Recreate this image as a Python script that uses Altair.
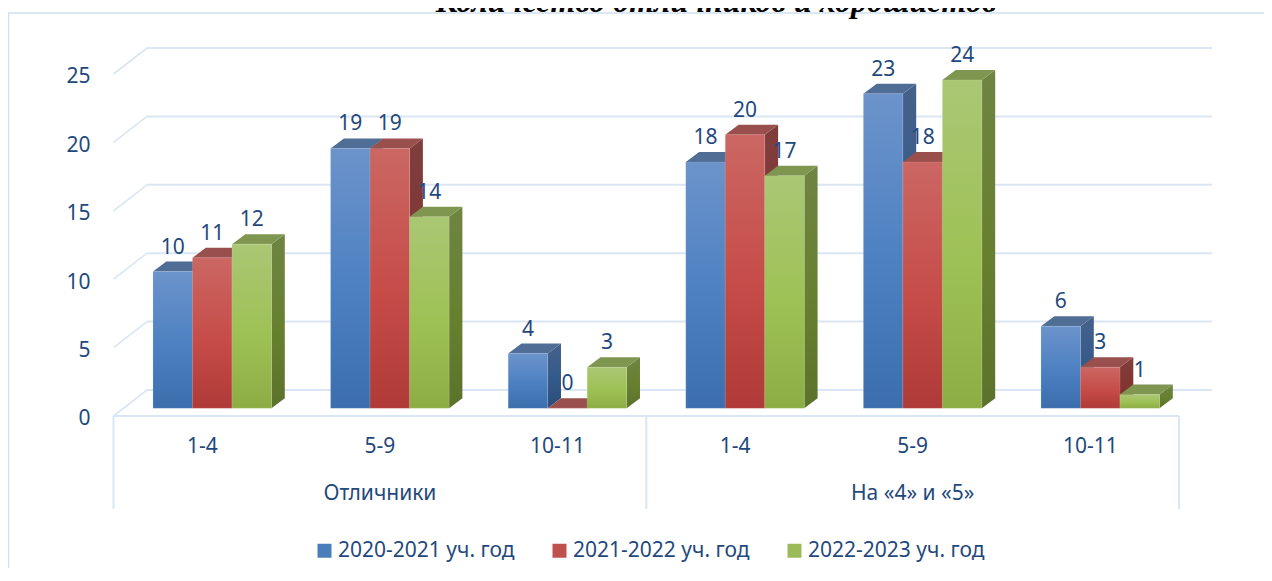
import altair as alt
import pandas as pd

groups = ["Отличники", "На «4» и «5»"]
classes = ["1-4", "5-9", "10-11", "1-4", "5-9", "10-11"]
series = ["2020-2021 уч. год", "2021-2022 уч. год", "2022-2023 уч. год"]
v2021 = [10, 19, 4, 18, 23, 6]
v2122 = [11, 19, 0, 20, 18, 3]
v2223 = [12, 14, 3, 17, 24, 1]
values = [v2021, v2122, v2223]
y_ticks = [0, 5, 10, 15, 20, 25]
title_text = "Количество отличников и хорошистов"

W, H = 1256, 560
STEP = 177.6
PXU = 13.68
X0 = 105.5
Y0 = 400.3
x_scale = alt.Scale(domain=[-X0 / STEP, (W - X0) / STEP], range=[0, W], nice=False, zero=False)
y_scale = alt.Scale(domain=[(Y0 - H) / PXU, Y0 / PXU], range=[H, 0], nice=False, zero=False)

TEXT = "#1F497D"
FONT = "Noto Sans"
FS = 21
GRID = "#DBE6F4"
BAR_W = 0.2224
DX = 13.3 / STEP
DV = 10 / PXU


def grad(a, b, c):
    return alt.LinearGradient(
        gradient="linear", x1=0, y1=0, x2=0, y2=1,
        stops=[alt.GradientStop(offset=0, color=a),
               alt.GradientStop(offset=0.55, color=b),
               alt.GradientStop(offset=1, color=c)])


front = [grad("#6C93CB", "#4C80C1", "#3C6EAD"),
         grad("#CB6763", "#C64C48", "#AF3A37"),
         grad("#AAC774", "#9EC155", "#8CAD44")]
side = [grad("#45618A", "#345A8A", "#294D76"),
        grad("#7E3E3C", "#823532", "#752C2A"),
        grad("#6F8442", "#66802F", "#5B722B")]
top = ["#506D96", "#994F4C", "#7F9650"]
edge = ["#B9CDE5", "#E6B9B8", "#D7E4BD"]
flat = ["#4A7EBB", "#C0504D", "#9BBB59"]

y_axis = alt.Axis(values=y_ticks, title=None, grid=False, domain=False, ticks=False,
                  labelFont=FONT, labelFontSize=FS, labelColor=TEXT, labelOffset=10.5,
                  offset=-90, labelPadding=8, orient="left", labelBaseline="middle")
X = alt.X("x:Q", scale=x_scale, axis=None)
Y = alt.Y("y:Q", scale=y_scale, stack=None, axis=y_axis)

bars, sides, tops = [], [], []
for s, vals in enumerate(values):
    for c, v in enumerate(vals):
        x0 = c + BAR_W * (s + 1)
        x1 = x0 + BAR_W
        key = f"{s}-{c}"
        bars.append(dict(s=s, key=key, x=x0, x2=x1, y=v, y2=0, v=v, cx=(x0 + x1) / 2))
        sides += [dict(s=s, key=key, x=x1, y=v, y2=0),
                  dict(s=s, key=key, x=x1 + DX, y=v + DV, y2=DV)]
        tops += [dict(s=s, key=key, x=x0, y=v, y2=v),
                 dict(s=s, key=key, x=x0 + DX, y=v, y2=v + DV),
                 dict(s=s, key=key, x=x1, y=v, y2=v + DV),
                 dict(s=s, key=key, x=x1 + DX, y=v + DV, y2=v + DV)]
bars = pd.DataFrame(bars)
sides = pd.DataFrame(sides)
tops = pd.DataFrame(tops)

layers = []

# hidden behind the first group's bars: carries the legend
leg = pd.DataFrame({"series": series, "x": [BAR_W * 1.5, BAR_W * 2.5, BAR_W * 3.5], "y": [5, 5, 5]})
layers.append(alt.Chart(leg).mark_square(size=1, opacity=1).encode(
    x=X, y=Y,
    color=alt.Color("series:N", scale=alt.Scale(domain=series, range=flat),
                    legend=alt.Legend(orient="none", legendX=306, legendY=532, direction="horizontal",
                                      title=None, symbolType="square", symbolSize=196, symbolStrokeWidth=0,
                                      symbolOpacity=1, labelFont=FONT, labelFontSize=FS, labelColor=TEXT,
                                      labelLimit=400, columnPadding=34, labelOffset=3))))

# back wall and side wall
BACK_X, BACK_END, BACK_DV, FRONT_DV = 33.5 / STEP, 1098.5 / STEP, 18.3 / PXU, -7.7 / PXU
wall = pd.DataFrame({"x": [BACK_X] * 6, "x2": [BACK_END] * 6, "y": [t + BACK_DV for t in y_ticks]})
diag = pd.DataFrame({"x": [0.0] * 6, "x2": [BACK_X] * 6,
                     "y": [t + FRONT_DV for t in y_ticks], "y2": [t + BACK_DV for t in y_ticks]})
layers.append(alt.Chart(wall).mark_rule(color=GRID, strokeWidth=2).encode(x=X, x2="x2:Q", y=Y))
layers.append(alt.Chart(diag).mark_rule(color=GRID, strokeWidth=1.6).encode(x=X, x2="x2:Q", y=Y, y2="y2:Q"))

# floor and category separators
floor = pd.DataFrame({"x": [0.0], "x2": [6.0], "y": [FRONT_DV]})
layers.append(alt.Chart(floor).mark_rule(color=GRID, strokeWidth=2).encode(x=X, x2="x2:Q", y=Y))
seps = pd.DataFrame({"x": [0.0, 3.0, 6.0], "y": [FRONT_DV] * 3, "y2": [FRONT_DV - 93 / PXU] * 3})
layers.append(alt.Chart(seps).mark_rule(color=GRID, strokeWidth=2).encode(x=X, y=Y, y2="y2:Q"))

# outer frame
layers.append(alt.Chart(pd.DataFrame({"a": [0]})).mark_rule(color="#CFE0F1", strokeWidth=1.5).encode(
    x=alt.value(0.5), y=alt.value(5), y2=alt.value(560)))
layers.append(alt.Chart(pd.DataFrame({"a": [0]})).mark_rule(color="#CFE0F1", strokeWidth=1.5).encode(
    x=alt.value(0), x2=alt.value(1256), y=alt.value(5)))

# 3-D bars, series by series
for s in range(3):
    layers.append(alt.Chart(sides[sides.s == s]).mark_area(fill=side[s]).encode(
        x=X, y=Y, y2="y2:Q", detail="key:N"))
    layers.append(alt.Chart(tops[tops.s == s]).mark_area(fill=top[s]).encode(
        x=X, y=Y, y2="y2:Q", detail="key:N"))
    layers.append(alt.Chart(bars[bars.s == s]).mark_rect(
        fill=front[s], stroke=edge[s], strokeWidth=0.6, strokeOpacity=0.35).encode(
        x=X, x2="x2:Q", y=Y, y2="y2:Q"))

# data labels
layers.append(alt.Chart(bars).mark_text(font=FONT, fontSize=FS, color=TEXT, dy=-24, baseline="middle").encode(
    x=alt.X("cx:Q", scale=x_scale, axis=None), y=Y, text="v:Q"))

# category labels
cats = pd.DataFrame({"x": [i + 0.5 for i in range(6)], "t": classes})
layers.append(alt.Chart(cats).mark_text(font=FONT, fontSize=FS, color=TEXT, baseline="middle").encode(
    x=X, y=alt.value(439), text="t:N"))
grp = pd.DataFrame({"x": [1.5, 4.5], "t": groups})
layers.append(alt.Chart(grp).mark_text(font=FONT, fontSize=FS, color=TEXT, baseline="middle").encode(
    x=X, y=alt.value(486), text="t:N"))

# title, cut by the top edge as in the reference
layers.append(alt.Chart(pd.DataFrame({"t": [title_text]})).mark_text(
    font="Liberation Serif", fontSize=32, fontWeight="bold", fontStyle="italic", color="#000000",
    baseline="alphabetic").encode(x=alt.value(708), y=alt.value(4), text="t:N"))

chart = alt.layer(*layers).properties(
    width=W, height=H, padding=0,
    autosize=alt.AutoSizeParams(type="none"),
).configure_view(stroke=None)

chart.save("out.html", embed_options={"renderer": "svg", "actions": False})
